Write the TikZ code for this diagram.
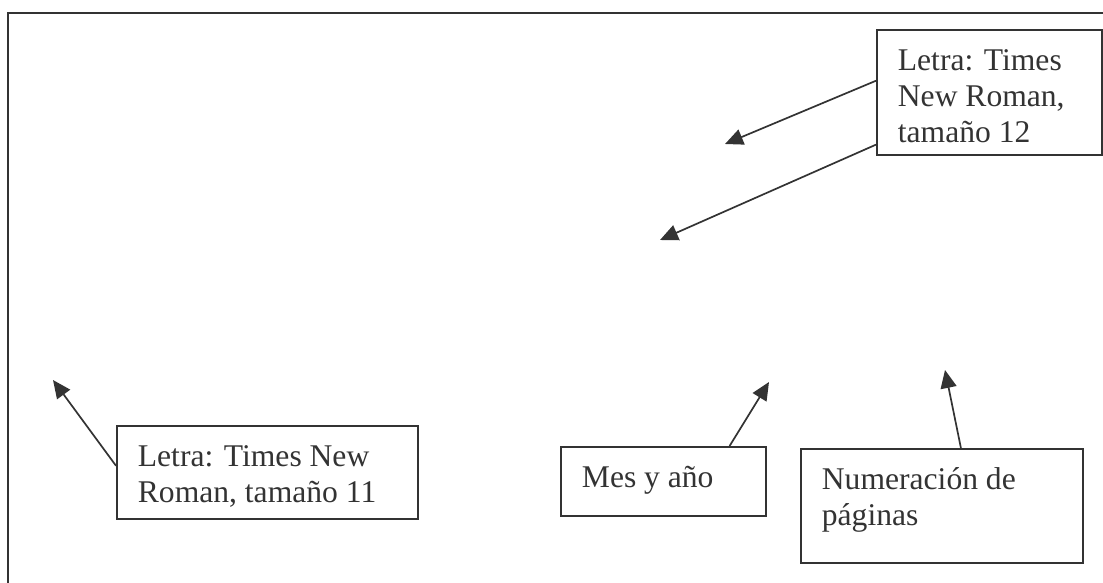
\documentclass[tikz,border=0pt]{standalone}
\usepackage{fontspec}
\setmainfont{Liberation Serif}
\usetikzlibrary{arrows.meta,calc}
\definecolor{ink}{HTML}{333333}
\begin{document}
\begin{tikzpicture}[x=0.5pt,y=-0.5pt,
  note/.style={draw=ink, line width=0.9pt, inner sep=0pt, anchor=north west,
    text=ink, font=\fontsize{15.8}{18}\selectfont, text height=20.5pt},
  pointer/.style={draw=ink, line width=0.85pt, -{Triangle[length=9pt,width=8pt]}}]
\useasboundingbox (0,0) rectangle (1103,583);
% page frame (only the top and left edges fall inside)
\draw[ink, line width=1.1pt] (8,583) -- (8,13) -- (1103,13);

% labelled boxes
\node[note, text depth=42pt] (title) at (876,29)
  {\hspace*{10.5pt}\parbox[t]{102pt}{Letra: Times\\New Roman,\\tamaño 12}};
\node[note, text depth=26pt] (body) at (116,425)
  {\hspace*{10.5pt}\parbox[t]{140pt}{Letra: Times New\\Roman, tamaño 11}};
\node[note, text depth=14pt] (date) at (560,446)
  {\hspace*{10.5pt}\parbox[t]{92pt}{Mes y año}};
\node[note, text depth=36.5pt] (pages) at (800,448)
  {\hspace*{10.5pt}\parbox[t]{130.5pt}{Numeración de\\páginas}};

% points the arrows refer to
\coordinate (t1) at (725,144);
\coordinate (t2) at (660,240);
\coordinate (t3) at (53,380);
\coordinate (t4) at (769,382);
\coordinate (t5) at (945,370);

\draw[pointer] ($(title.north west)!0.408!(title.south west)$) -- (t1);
\draw[pointer] ($(title.north west)!0.912!(title.south west)$) -- (t2);
\draw[pointer] ($(body.north west)!0.43!(body.south west)$) -- (t3);
\draw[pointer] ($(date.north west)!0.82!(date.north east)$) -- (t4);
\draw[pointer] ($(pages.north west)!0.567!(pages.north east)$) -- (t5);
\end{tikzpicture}
\end{document}
